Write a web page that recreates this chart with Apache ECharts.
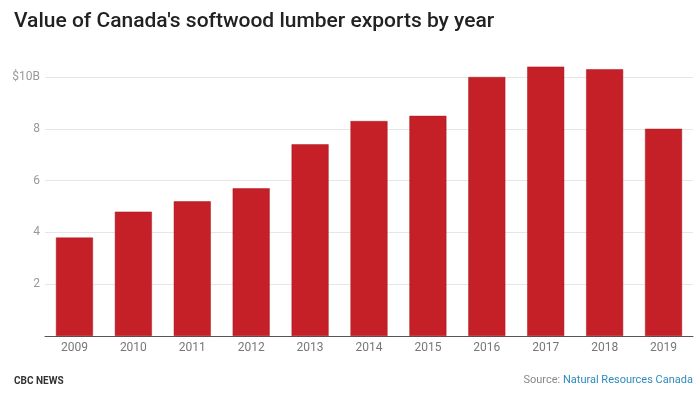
<!DOCTYPE html>
<html><head><meta charset="utf-8">
<script src="https://cdn.jsdelivr.net/npm/echarts@6/dist/echarts.min.js"></script>
<style>html,body{margin:0;padding:0;background:#fff}#c{width:700px;height:394px}</style>
</head><body><div id="c"></div>
<script>
const years = ['2009','2010','2011','2012','2013','2014','2015','2016','2017','2018','2019'];
const exportsB = [3.8, 4.8, 5.2, 5.7, 7.4, 8.3, 8.5, 10.0, 10.4, 10.3, 8.0];
const yTicks = [0, 2, 4, 6, 8, 10];

const chart = echarts.init(document.getElementById('c'));
chart.setOption({
  animation: false,
  title: {
    text: "Value of Canada's softwood lumber exports by year",
    left: 14, top: 11, padding: 0,
    textStyle: { fontFamily: 'Roboto', fontSize: 21, fontWeight: 500, color: '#222' }
  },
  grid: { left: 45, right: 7, top: 77, bottom: 58 },
  xAxis: {
    type: 'category', data: years,
    axisLine: { lineStyle: { color: '#555', width: 1 } },
    axisTick: { show: false },
    axisLabel: { color: '#777', fontSize: 12, fontFamily: 'Roboto', margin: 6 }
  },
  yAxis: {
    type: 'value', min: yTicks[0], max: yTicks[yTicks.length-1], interval: 2,
    axisLine: { show: false }, axisTick: { show: false },
    splitLine: { lineStyle: { color: '#e6e6e6' } },
    axisLabel: {
      color: '#999', fontSize: 12, fontFamily: 'Roboto', margin: 5,
      formatter: v => v === 0 ? '' : (v === 10 ? '$10B' : String(v))
    }
  },
  series: [{
    type: 'bar', data: exportsB, barWidth: 37, clip: false,
    itemStyle: { color: '#c51f27', borderColor: '#a91b22', borderWidth: 0.5 }
  }],
  graphic: [
    { type: 'text', left: 14, top: 376, style: { text: 'CBC NEWS', fontFamily: 'Roboto', fontWeight: 'bold', fontSize: 10, fill: '#333' } },
    { type: 'text', right: 7, top: 375, style: { rich: { g: { fill: '#888', fontSize: 11, fontFamily: 'Roboto' }, b: { fill: '#2c8bbd', fontSize: 11, fontFamily: 'Roboto' } }, text: '{g|Source: }{b|Natural Resources Canada}' } }
  ]
});
</script></body></html>
